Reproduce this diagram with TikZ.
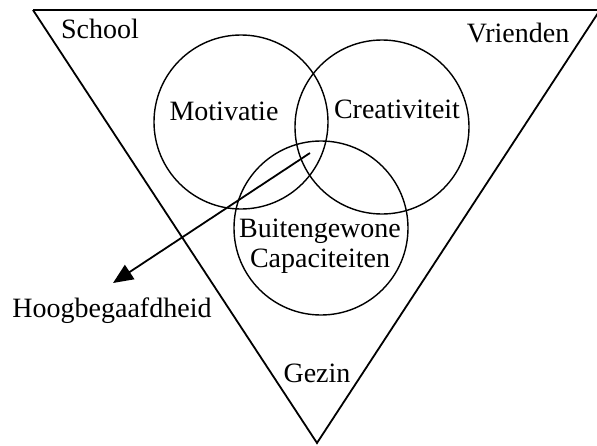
\documentclass[tikz,border=0pt]{standalone}
\usepackage{fontspec}
\setmainfont{Liberation Serif}
\usetikzlibrary{arrows.meta,positioning,calc}

\begin{document}
\begin{tikzpicture}[x=1pt,y=-1pt,font=\fontsize{28}{30}\selectfont,
  ring/.style={draw,circle,line width=1.4pt,minimum size=174pt,inner sep=0pt},
  lab/.style={anchor=base,inner sep=0pt}]
\useasboundingbox (0,0) rectangle (597,445);
\coordinate (tl) at (33,10);
\coordinate (tr) at (600,10);
\coordinate (bot) at (317,443);
\draw[line width=1.2pt] (tl) -- (tr);
\draw[line width=1.8pt] (tr) -- (bot) -- (tl);
\foreach \name/\pos in {motiv/{(241,122)},creat/{(382,127)},capac/{(321,228)}}
  \node[ring] (\name) at \pos {};
\node[lab] (school) at (100,38) {School};
\node[lab] (vrienden) at (518,42) {Vrienden};
\node[lab] (motivatie) at (224,120) {Motivatie};
\node[lab] (creativiteit) at (397,118) {Creativiteit};
\node[align=center,inner sep=0pt] (buiten) at (320,246) {Buitengewone\\Capaciteiten};
\node[lab] (gezin) at (317,382) {Gezin};
\node[lab] (hoog) at (112,317) {Hoogbegaafdheid};
\coordinate (kern) at (310,153);
\coordinate (pijl) at (113,283);
\draw[line width=1.8pt,-{Triangle[length=20pt,width=17pt]}] (kern) -- (pijl);
\end{tikzpicture}
\end{document}
